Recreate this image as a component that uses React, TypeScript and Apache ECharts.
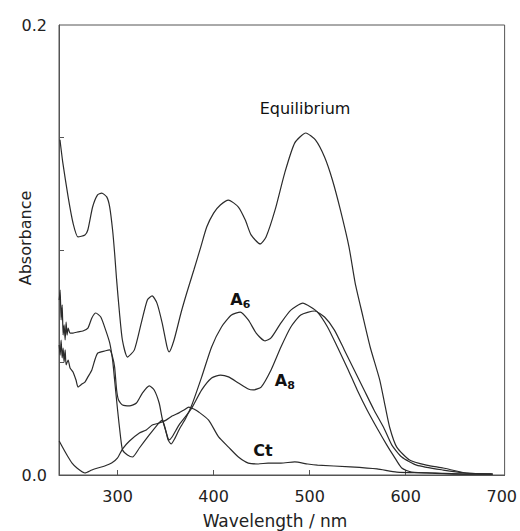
import React, { useEffect, useRef } from "react";
import * as echarts from "echarts";

const xLabelValues = [300, 400, 500, 600, 700];
const xTickValues = [300, 400, 500, 600];
const yLabelValues = [0, 0.2];
const yTickValues = [0.05, 0.1, 0.15];

const equilibrium: [number, number][] = [
  [240, 0.149], [243, 0.1387], [248.5, 0.1236], [253.6, 0.112], [258.8, 0.1058], [266, 0.1067],
  [269, 0.1089], [274, 0.1191], [279, 0.1244], [283.5, 0.1253], [288.7, 0.1236], [291.8, 0.1191],
  [294.8, 0.1089], [296.9, 0.0987], [299, 0.0867], [302, 0.072], [305, 0.06], [310.3, 0.0524],
  [317.5, 0.0556], [324.7, 0.0676], [331, 0.0778], [336, 0.0796], [341, 0.0764], [346.4, 0.0676],
  [351.5, 0.0569], [353.6, 0.0547], [358.8, 0.06], [366, 0.072], [372, 0.0809], [379.4, 0.0911],
  [386.6, 0.1013], [392.8, 0.1102], [400, 0.1164], [407, 0.12], [415.5, 0.1222], [425.8, 0.1191],
  [433, 0.1133], [439, 0.1067], [448.5, 0.1027], [454.6, 0.1058], [464, 0.1178], [474, 0.1342],
  [484.5, 0.1476], [496, 0.152], [506, 0.1489], [515.5, 0.1413], [523.7, 0.1311], [532, 0.1178],
  [541, 0.1013], [547.4, 0.0853], [554.6, 0.072], [563, 0.0569], [573, 0.0422], [578.4, 0.0311],
  [583.5, 0.0209], [590.7, 0.0124], [604, 0.0067], [621.6, 0.0044], [639, 0.0031], [663, 0.0009],
  [690, 0.0004],
];

const a6: [number, number][] = [
  [239.2, 0.0778], [240.2, 0.0822], [241.2, 0.0689], [242.3, 0.0756], [243.3, 0.0622], [244.3, 0.0667],
  [245.4, 0.06], [246.4, 0.068], [247.4, 0.0622], [248.5, 0.0653], [250.5, 0.0631], [253.6, 0.0631],
  [258.8, 0.0636], [263.9, 0.064], [269.1, 0.0653], [273.2, 0.0698], [277.3, 0.072], [282.5, 0.0702],
  [287.6, 0.0644], [291.8, 0.0587], [294.8, 0.0511], [296.9, 0.0422], [300, 0.0289], [303.1, 0.0169],
  [305.2, 0.0111], [310.3, 0.0089], [315.5, 0.008], [322.7, 0.012], [333, 0.0178], [341.2, 0.0222],
  [346.4, 0.0244], [349.5, 0.0209], [352.6, 0.0156], [355.7, 0.0138], [359.8, 0.0164], [363.9, 0.02],
  [371.1, 0.0253], [377.3, 0.0311], [387.6, 0.0436], [397.9, 0.0569], [408.2, 0.0658], [418.6, 0.0711],
  [427.8, 0.0724], [436.1, 0.0689], [444.3, 0.0631], [453.6, 0.0596], [459.8, 0.0609], [470.1, 0.0676],
  [480.4, 0.0733], [492.8, 0.0764], [501, 0.0747], [508.2, 0.0724], [518.6, 0.0658], [528.9, 0.0569],
  [539.2, 0.0476], [549.5, 0.0378], [559.8, 0.0289], [570.1, 0.0209], [580.4, 0.0133], [587.6, 0.0084],
  [595.9, 0.0031], [606.2, 0.0013], [631.9, 0.0009], [662.9, 0.0004], [690.7, 0.0004],
];

const a8: [number, number][] = [
  [239.2, 0.0578], [240.2, 0.0533], [241.2, 0.06], [242.3, 0.052], [243.3, 0.0564], [244.3, 0.0502],
  [245.4, 0.0556], [246.4, 0.0489], [248.5, 0.0511], [250.5, 0.0476], [253.6, 0.0458], [256.7, 0.0422],
  [258.8, 0.0391], [262.9, 0.0404], [266, 0.0413], [269.1, 0.0436], [273.2, 0.0467], [276.3, 0.0511],
  [279.4, 0.0542], [286.6, 0.0551], [291.8, 0.0556], [294.8, 0.0524], [296.9, 0.048], [299, 0.0378],
  [301, 0.0333], [305.2, 0.0311], [312.4, 0.0307], [319.6, 0.032], [325.8, 0.0364], [333, 0.0396],
  [338.1, 0.0378], [343.3, 0.032], [346.4, 0.0253], [350.5, 0.0191], [353.6, 0.0156], [356.7, 0.0169],
  [363.9, 0.0222], [371.1, 0.0262], [377.3, 0.0298], [387.6, 0.0378], [397.9, 0.0431], [407.2, 0.0444],
  [415.5, 0.0436], [425.8, 0.0409], [436.1, 0.0382], [441.2, 0.0378], [449.5, 0.0391], [459.8, 0.0467],
  [470.1, 0.0569], [480.4, 0.0658], [490.7, 0.0711], [505.2, 0.0729], [515.5, 0.0702], [525.8, 0.0644],
  [536.1, 0.0556], [546.4, 0.0467], [556.7, 0.0378], [567, 0.0289], [577.3, 0.0209], [585.6, 0.0133],
  [595.9, 0.008], [611.3, 0.0044], [639.2, 0.0022], [662.9, 0.0009], [690.7, 0.0004],
];

const ct: [number, number][] = [
  [239.2, 0.0151], [244.3, 0.0111], [248.5, 0.008], [252.6, 0.0053], [257.7, 0.0031], [266, 0.0009],
  [273.2, 0.0022], [279.4, 0.0031], [286.6, 0.004], [293.8, 0.0053], [300, 0.0076], [305.2, 0.0116],
  [312.4, 0.0151], [322.7, 0.0187], [329.9, 0.02], [336.1, 0.0222], [343.3, 0.0231], [350.5, 0.0244],
  [356.7, 0.0262], [363.9, 0.0276], [369.1, 0.0289], [374.2, 0.0302], [379.4, 0.0293], [384.5, 0.028],
  [394.8, 0.0244], [405.2, 0.0169], [415.5, 0.0124], [425.8, 0.008], [436.1, 0.0053], [446.4, 0.0049],
  [456.7, 0.0053], [470.1, 0.0053], [484.5, 0.0058], [497.9, 0.0049], [508.2, 0.0044], [542.3, 0.0036],
  [570.1, 0.0027], [590.7, 0.0013], [621.6, 0.0009], [652.6, 0.0004], [688.6, 0.0004],
];

const seriesNames = ["Equilibrium", "A6", "A8", "Ct"];

// label anchors in data coordinates: [main text, subscript, wavelength, absorbance, bold]
const annotations: [string, string, number, number, boolean][] = [
  ["Equilibrium", "", 448, 0.1627, false],
  ["A", "6", 417.2, 0.0782, true],
  ["A", "8", 463.6, 0.0418, true],
  ["Ct", "", 441.2, 0.0111, true],
];

const FONT = "'DejaVu Sans', 'Liberation Sans', Arial, sans-serif";
const INK = "#2b2b2b";

export default function App() {
  const ref = useRef<HTMLDivElement>(null);

  useEffect(() => {
    if (!ref.current) return;
    const chart = echarts.init(ref.current, undefined, { renderer: "svg" });
    const lineStyle = { color: INK, width: 1.2 };
    const datasets = [equilibrium, a6, a8, ct];
    chart.setOption({
      animation: false,
      backgroundColor: "#ffffff",
      grid: {
        left: 59,
        top: 25,
        width: 450,
        height: 450,
        show: true,
        borderColor: "#555",
        borderWidth: 1,
        backgroundColor: "transparent",
      },
      xAxis: {
        type: "value",
        min: 239,
        max: 703,
        axisLine: { show: true, lineStyle: { color: "#555", width: 1 } },
        axisTick: { show: true, inside: true, length: 5, customValues: xTickValues, lineStyle: { color: "#555" } },
        axisLabel: {
          customValues: xLabelValues,
          color: "#222",
          fontSize: 16,
          fontFamily: FONT,
          margin: 13,
        },
        splitLine: { show: false },
      },
      yAxis: {
        type: "value",
        min: 0,
        max: 0.2,
        axisLine: { show: true, lineStyle: { color: "#555", width: 1 } },
        axisTick: { show: true, inside: true, length: 5, customValues: yTickValues, lineStyle: { color: "#555" } },
        axisLabel: {
          customValues: yLabelValues,
          formatter: (v: number) => v.toFixed(1),
          color: "#222",
          fontSize: 16,
          fontFamily: FONT,
          margin: 12,
        },
        splitLine: { show: false },
      },
      series: datasets.map((d, i) => ({
        name: seriesNames[i],
        type: "line",
        data: d,
        showSymbol: false,
        symbol: "none",
        smooth: 0.2,
        lineStyle,
        z: 3,
      })),
    });

    const graphics: any[] = [];
    annotations.forEach(([main, sub, wx, wy, bold]) => {
      const p = chart.convertToPixel({ xAxisIndex: 0, yAxisIndex: 0 }, [wx, wy]) as number[];
      const size = bold ? 16 : 16;
      graphics.push({
        type: "text",
        x: p[0],
        y: p[1],
        style: {
          text: main,
          fill: "#111",
          font: `${bold ? "bold " : ""}${size}px ${FONT}`,
          textAlign: "left",
          textVerticalAlign: "middle",
          align: "left",
          verticalAlign: "middle",
        },
      });
      if (sub) {
        graphics.push({
          type: "text",
          x: p[0] + 12.5,
          y: p[1] + 5,
          style: {
            text: sub,
            fill: "#111",
            font: `bold 11px ${FONT}`,
            textAlign: "left",
            textVerticalAlign: "middle",
            align: "left",
            verticalAlign: "middle",
          },
        });
      }
    });
    graphics.push({
      type: "text",
      x: 275,
      y: 521,
      style: {
        text: "Wavelength / nm",
        fill: "#222",
        font: `17px ${FONT}`,
        textAlign: "center",
        textVerticalAlign: "middle",
        align: "center",
        verticalAlign: "middle",
      },
    });
    graphics.push({
      type: "text",
      x: 25,
      y: 238,
      rotation: Math.PI / 2,
      style: {
        text: "Absorbance",
        fill: "#222",
        font: `16px ${FONT}`,
        textAlign: "center",
        textVerticalAlign: "middle",
        align: "center",
        verticalAlign: "middle",
      },
    });
    chart.setOption({ graphic: graphics });

    return () => chart.dispose();
  }, []);

  return (
    <div
      ref={ref}
      style={{ position: "fixed", left: 0, top: 0, width: 520, height: 531, background: "#fff" }}
    />
  );
}
